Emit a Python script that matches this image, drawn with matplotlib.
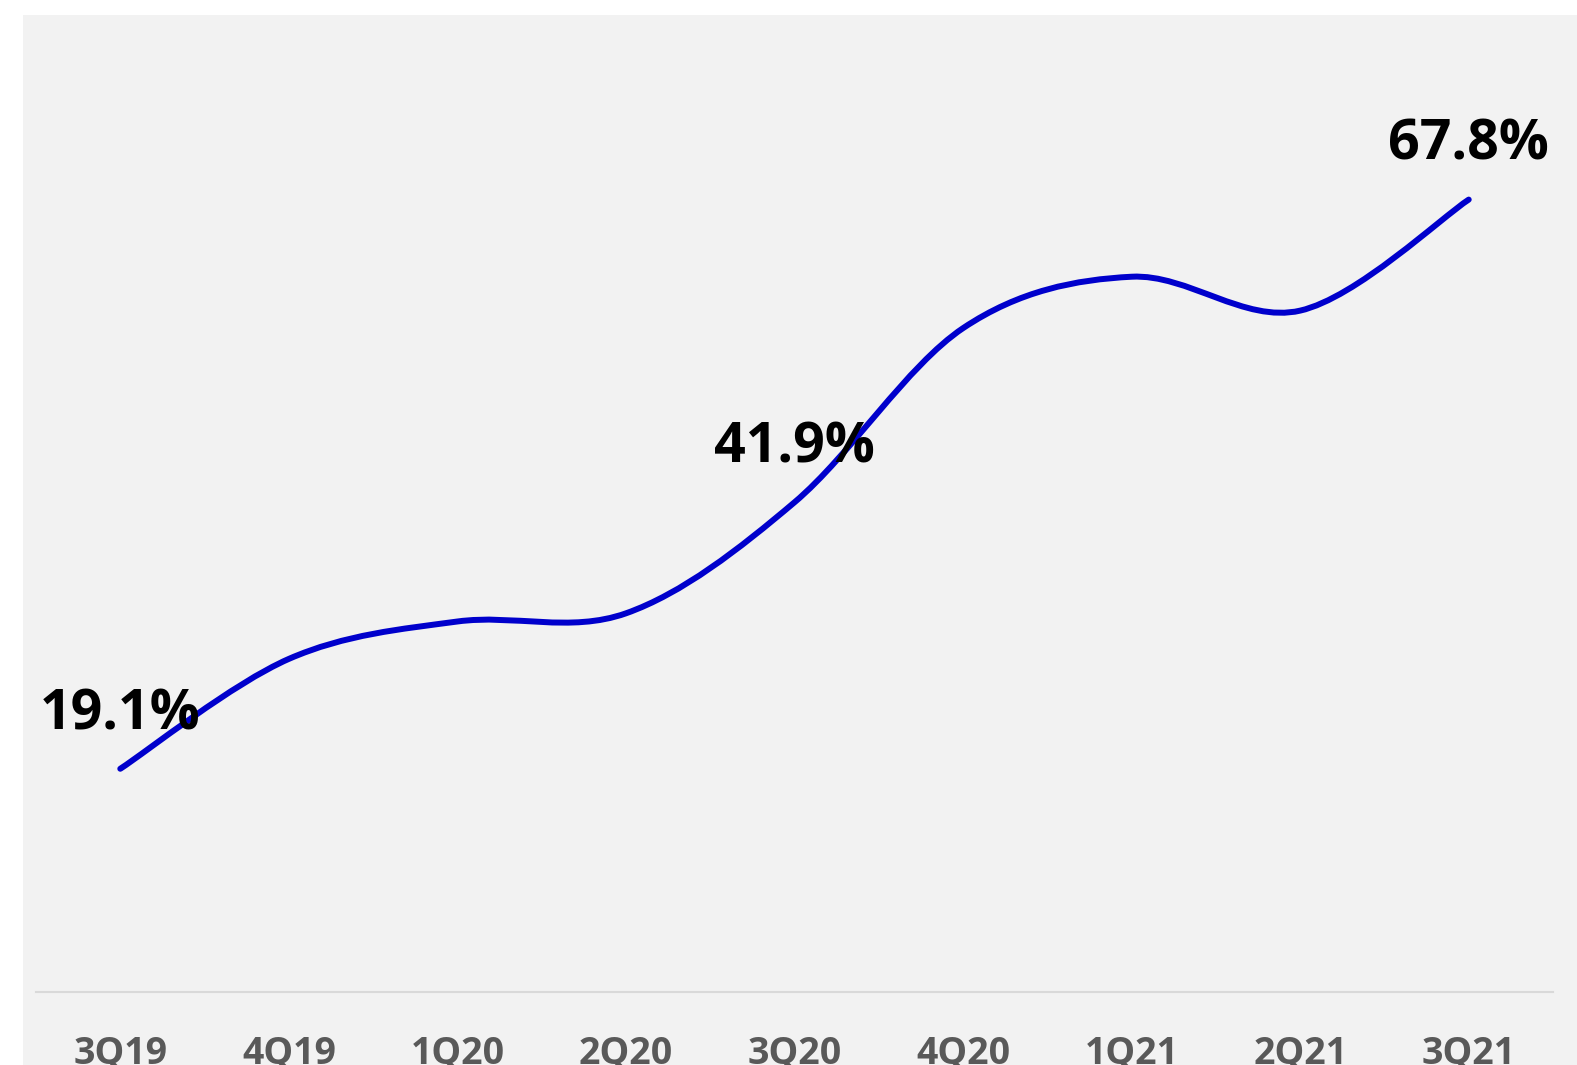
import numpy as np
import matplotlib.pyplot as plt
from matplotlib.path import Path
from matplotlib.patches import PathPatch, Rectangle

# Quarterly share (%)
quarters = ['3Q19', '4Q19', '1Q20', '2Q20', '3Q20', '4Q20', '1Q21', '2Q21', '3Q21']
share = [19.1, 28.5, 31.7, 32.4, 41.9, 56.8, 61.2, 58.3, 67.8]
labelled = ['3Q19', '3Q20', '3Q21']

plt.rcParams['font.family'] = ['Open Sans', 'DejaVu Sans']

W, H = 1577, 1065
fig = plt.figure(figsize=(W / 100, H / 100), dpi=100)
fig.patch.set_facecolor('white')

# grey chart panel
fig.add_artist(Rectangle((23 / W, 0), 1 - 23 / W, 1 - 15 / H,
                         transform=fig.transFigure, facecolor='#F2F2F2',
                         edgecolor='none', zorder=0))

ax = fig.add_axes([36 / W, (H - 992) / H, (1553 - 36) / W, (992 - 57) / H])
ax.set_facecolor('none')

x = np.arange(len(quarters))
y = np.array(share)

# smoothed line: cubic Bezier segments through each point
px = np.concatenate([[x[0]], x, [x[-1]]])
py = np.concatenate([[y[0]], y, [y[-1]]])
verts = [(x[0], y[0])]
codes = [Path.MOVETO]
for i in range(1, len(px) - 2):
    c1 = (px[i] + (px[i + 1] - px[i - 1]) / 6, py[i] + (py[i + 1] - py[i - 1]) / 6)
    c2 = (px[i + 1] - (px[i + 2] - px[i]) / 6, py[i + 1] - (py[i + 2] - py[i]) / 6)
    verts += [c1, c2, (px[i + 1], py[i + 1])]
    codes += [Path.CURVE4] * 3
ax.add_patch(PathPatch(Path(verts, codes), facecolor='none', edgecolor='#0000CC',
                       lw=4.3, capstyle='round', joinstyle='round', zorder=3))

for q in labelled:
    i = quarters.index(q)
    ax.annotate(f'{share[i]:.1f}%', (x[i], y[i]), xytext=(0, 39),
                textcoords='offset points', ha='center', va='center',
                fontsize=40, fontweight='bold', color='black', zorder=4)

ax.set_xlim(-0.5, len(quarters) - 0.5)
ax.set_ylim(0, 80)
ax.set_yticks([])
ax.set_xticks(x)
ax.set_xticklabels(quarters, fontsize=27, fontweight='bold', color='#595959')
ax.tick_params(axis='x', length=0, pad=31)
for s in ['top', 'right', 'left']:
    ax.spines[s].set_visible(False)
ax.spines['bottom'].set_color('#D9D9D9')
ax.spines['bottom'].set_linewidth(1.5)

fig.savefig('out.png', dpi=100)
